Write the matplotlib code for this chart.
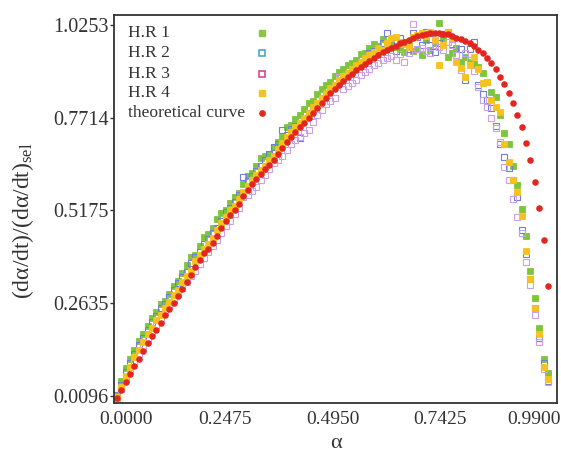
import matplotlib
matplotlib.use("Agg")
import matplotlib.pyplot as plt
import matplotlib.transforms as mtransforms

plt.rcParams['font.family'] = ['Liberation Serif', 'DejaVu Serif']
plt.rcParams['mathtext.fontset'] = 'custom'
plt.rcParams['mathtext.rm'] = 'Liberation Serif'
plt.rcParams['mathtext.it'] = 'Liberation Serif:italic'

# conversion grid, 0.00 .. 0.99
alpha = [0.00, 0.01, 0.02, 0.03, 0.04, 0.05, 0.06, 0.07, 0.08, 0.09,
         0.10, 0.11, 0.12, 0.13, 0.14, 0.15, 0.16, 0.17, 0.18, 0.19,
         0.20, 0.21, 0.22, 0.23, 0.24, 0.25, 0.26, 0.27, 0.28, 0.29,
         0.30, 0.31, 0.32, 0.33, 0.34, 0.35, 0.36, 0.37, 0.38, 0.39,
         0.40, 0.41, 0.42, 0.43, 0.44, 0.45, 0.46, 0.47, 0.48, 0.49,
         0.50, 0.51, 0.52, 0.53, 0.54, 0.55, 0.56, 0.57, 0.58, 0.59,
         0.60, 0.61, 0.62, 0.63, 0.64, 0.65, 0.66, 0.67, 0.68, 0.69,
         0.70, 0.71, 0.72, 0.73, 0.74, 0.75, 0.76, 0.77, 0.78, 0.79,
         0.80, 0.81, 0.82, 0.83, 0.84, 0.85, 0.86, 0.87, 0.88, 0.89,
         0.90, 0.91, 0.92, 0.93, 0.94, 0.95, 0.96, 0.97, 0.98, 0.99]

hr1 = [0.010, 0.050, 0.085, 0.112, 0.135, 0.160, 0.178, 0.200, 0.222, 0.240,
       0.262, 0.270, 0.290, 0.312, 0.325, 0.345, 0.368, 0.390, 0.395, 0.420,
       0.445, 0.452, 0.470, 0.495, 0.510, 0.520, 0.538, 0.555, 0.566, 0.590,
       0.612, 0.620, 0.640, 0.662, 0.668, 0.672, 0.690, 0.705, 0.720, 0.745,
       0.752, 0.768, 0.780, 0.795, 0.812, 0.818, 0.836, 0.850, 0.862, 0.870,
       0.885, 0.896, 0.905, 0.916, 0.922, 0.930, 0.945, 0.950, 0.962, 0.972,
       0.968, 0.987, 0.971, 0.980, 0.965, 0.960, 0.951, 0.970, 0.954, 0.960,
       0.943, 0.985, 0.957, 0.976, 1.031, 0.990, 0.938, 0.950, 0.962, 0.924,
       0.938, 0.925, 0.918, 0.910, 0.894, 0.870, 0.842, 0.828, 0.780, 0.730,
       0.700, 0.640, 0.587, 0.522, 0.448, 0.352, 0.278, 0.196, 0.111, 0.073]

hr2 = [0.012, 0.040, 0.075, 0.100, 0.125, 0.150, 0.168, 0.190, 0.212, 0.228,
       0.250, 0.262, 0.280, 0.300, 0.318, 0.335, 0.350, 0.375, 0.390, 0.405,
       0.425, 0.440, 0.455, 0.470, 0.490, 0.512, 0.525, 0.540, 0.560, 0.610,
       0.598, 0.612, 0.625, 0.640, 0.655, 0.672, 0.691, 0.700, 0.738, 0.725,
       0.740, 0.750, 0.716, 0.770, 0.785, 0.800, 0.805, 0.826, 0.840, 0.848,
       0.860, 0.870, 0.880, 0.893, 0.900, 0.915, 0.925, 0.930, 0.948, 0.955,
       0.960, 0.975, 1.003, 0.980, 0.954, 0.990, 0.978, 0.960, 1.003, 0.992,
       0.970, 1.006, 0.988, 0.951, 0.975, 1.000, 1.006, 0.972, 0.943, 0.960,
       0.875, 0.960, 0.979, 0.860, 0.836, 0.820, 0.798, 0.750, 0.700, 0.664,
       0.634, 0.600, 0.555, 0.464, 0.398, 0.330, 0.250, 0.169, 0.100, 0.050]

hr3 = [0.005, 0.030, 0.055, 0.080, 0.100, 0.125, 0.145, 0.165, 0.185, 0.205,
       0.220, 0.240, 0.255, 0.272, 0.290, 0.305, 0.322, 0.338, 0.352, 0.372,
       0.388, 0.405, 0.420, 0.438, 0.455, 0.475, 0.490, 0.508, 0.525, 0.554,
       0.560, 0.572, 0.582, 0.600, 0.615, 0.630, 0.648, 0.655, 0.668, 0.683,
       0.700, 0.710, 0.719, 0.730, 0.738, 0.760, 0.778, 0.792, 0.808, 0.818,
       0.825, 0.883, 0.850, 0.858, 0.867, 0.875, 0.888, 0.898, 0.905, 0.915,
       0.922, 0.930, 0.935, 0.940, 0.930, 0.945, 0.924, 0.950, 1.028, 0.960,
       0.962, 0.955, 0.948, 0.970, 0.965, 0.958, 0.979, 0.970, 0.943, 0.902,
       0.949, 0.930, 0.900, 0.856, 0.820, 0.800, 0.770, 0.743, 0.705, 0.637,
       0.600, 0.550, 0.500, 0.456, 0.377, 0.314, 0.230, 0.158, 0.084, 0.048]

hr4 = [0.008, 0.035, 0.065, 0.090, 0.115, 0.135, 0.158, 0.178, 0.195, 0.218,
       0.232, 0.250, 0.268, 0.285, 0.300, 0.322, 0.338, 0.352, 0.378, 0.395,
       0.412, 0.425, 0.442, 0.465, 0.482, 0.500, 0.518, 0.530, 0.548, 0.568,
       0.585, 0.600, 0.615, 0.628, 0.640, 0.655, 0.668, 0.685, 0.702, 0.718,
       0.732, 0.745, 0.758, 0.772, 0.785, 0.800, 0.812, 0.825, 0.840, 0.852,
       0.862, 0.875, 0.885, 0.895, 0.905, 0.915, 0.925, 0.935, 0.942, 0.952,
       0.962, 0.958, 0.975, 0.990, 0.992, 0.980, 0.972, 0.965, 0.992, 0.998,
       1.003, 0.995, 1.006, 0.985, 0.916, 0.970, 1.006, 0.990, 0.924, 0.908,
       0.883, 0.915, 0.938, 0.905, 0.866, 0.868, 0.820, 0.800, 0.787, 0.700,
       0.650, 0.601, 0.568, 0.502, 0.407, 0.330, 0.251, 0.180, 0.090, 0.057]

theory = [0.005, 0.025, 0.048, 0.070, 0.092, 0.112, 0.132, 0.155, 0.175, 0.190,
          0.210, 0.230, 0.247, 0.263, 0.283, 0.302, 0.322, 0.342, 0.362, 0.383,
          0.400, 0.412, 0.428, 0.449, 0.470, 0.488, 0.504, 0.519, 0.535, 0.556,
          0.574, 0.590, 0.603, 0.617, 0.630, 0.643, 0.656, 0.671, 0.688, 0.705,
          0.720, 0.733, 0.745, 0.758, 0.772, 0.785, 0.798, 0.813, 0.826, 0.839,
          0.851, 0.862, 0.872, 0.883, 0.892, 0.901, 0.910, 0.918, 0.927, 0.935,
          0.943, 0.951, 0.957, 0.963, 0.969, 0.975, 0.980, 0.985, 0.990, 0.994,
          0.998, 1.001, 1.003, 1.004, 1.004, 1.002, 1.000, 0.996, 0.991, 0.987,
          0.982, 0.977, 0.969, 0.957, 0.949, 0.935, 0.921, 0.905, 0.883, 0.864,
          0.839, 0.812, 0.779, 0.746, 0.702, 0.656, 0.596, 0.524, 0.437, 0.311]

xticks = [0.0000, 0.2475, 0.4950, 0.7425, 0.9900]
yticks = [0.0096, 0.2635, 0.5175, 0.7714, 1.0253]

names = ['H.R 1', 'H.R 2', 'H.R 3', 'H.R 4', 'theoretical curve']

fig = plt.figure(figsize=(5.61, 4.55), dpi=100)
ax = fig.add_axes([0.2032, 0.1143, 0.7897, 0.8527])

ax.plot(alpha, hr1, 's', ms=4.5, color='#7dc63c', mec='#7dc63c', mew=0.6, ls='none')
ax.plot(alpha, hr2, 's', ms=4.0, mfc='none', mec='#6f7ed8', mew=0.8, ls='none')
ax.plot(alpha, hr3, 's', ms=4.0, mfc='none', mec='#c9a0ea', mew=0.8, ls='none')
ax.plot(alpha, hr4, 's', ms=4.5, color='#f8c21c', mec='#f8c21c', mew=0.6, ls='none')
ax.plot(alpha, theory, 'o', ms=3.7, color='#e2261f', ls='none')

ax.set_xlim(-0.007, 1.011)
ax.set_ylim(-0.0096, 1.0527)
ax.set_xticks(xticks)
ax.set_xticklabels(['%.4f' % v for v in xticks])
ax.set_yticks(yticks)
ax.set_yticklabels(['%.4f' % v for v in yticks])
ax.tick_params(axis='x', length=0, pad=6, labelsize=14, colors='#333333')
ax.tick_params(axis='y', length=3, width=1, pad=1, labelsize=14.5, colors='#333333')
for s in ax.spines.values():
    s.set_linewidth(1.3)
    s.set_color('#333333')

# end labels sit inward in the reference
lab = ax.get_xticklabels()
lab[0].set_transform(lab[0].get_transform() + mtransforms.ScaledTranslation(0.09, 0, fig.dpi_scale_trans))
lab[-1].set_transform(lab[-1].get_transform() + mtransforms.ScaledTranslation(-0.14, 0, fig.dpi_scale_trans))

ax.set_xlabel('α', fontsize=16, color='#333333', labelpad=4)
ax.set_ylabel('(dα/dt)/(dα/dt)$_{\\rm sel}$', fontsize=17, color='#333333')
ax.yaxis.set_label_coords(-0.175, 0.47)

# legend drawn by hand: text left, marker right
rows = [0.954, 0.902, 0.848, 0.799, 0.747]
styles = [dict(marker='s', ms=4.4, color='#8cc83f'),
          dict(marker='s', ms=5, mfc='none', mec='#3f9fd0', mew=1.1),
          dict(marker='s', ms=5, mfc='none', mec='#d13c8c', mew=1.1),
          dict(marker='s', ms=4.4, color='#f8c21c'),
          dict(marker='o', ms=3.8, color='#e2261f')]
for name, yy, st in zip(names, rows, styles):
    ax.text(0.032, yy, name, transform=ax.transAxes, fontsize=12.6, va='center', color='#333333')
    ax.plot([0.334], [yy], transform=ax.transAxes, ls='none', **st)

fig.savefig('out.png', dpi=100)
